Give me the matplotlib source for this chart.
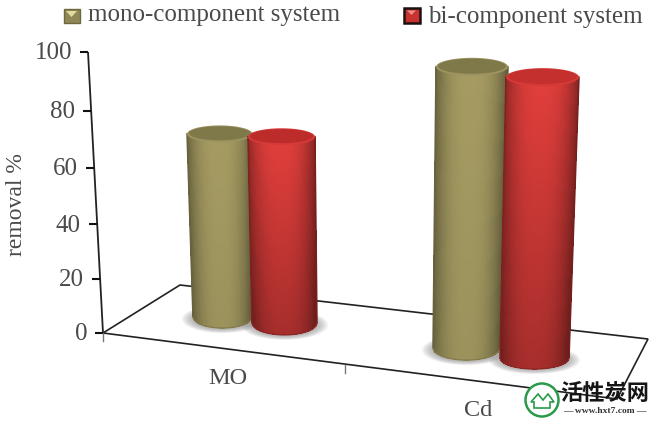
import numpy as np
import matplotlib
matplotlib.use('Agg')
import matplotlib.pyplot as plt
from matplotlib.patches import Ellipse, Rectangle, Polygon, Circle

plt.rcParams['font.family'] = ['Liberation Serif', 'DejaVu Serif']

# values
categories = ['MO', 'Cd']
mono = [72, 95]
bi = [71, 91.5]
series_names = ['mono-component system', 'bi-component system']
y_ticks = [0, 20, 40, 60, 80, 100]

TEXT = '#4a4a4a'
W, H = 651, 423
ZERO_PY = 333


# the value axis is drawn with a little perspective, so it is not quite linear
def forward(v):
    v = np.asarray(v, dtype=float)
    return 2.65 * v + 0.0016 * v ** 2


def inverse(h):
    h = np.asarray(h, dtype=float)
    return (-2.65 + np.sqrt(np.maximum(2.65 ** 2 + 4 * 0.0016 * h, 0))) / (2 * 0.0016)


fig = plt.figure(figsize=(W / 100, H / 100), dpi=100)

# floor, shadows and other decoration, in pixel coordinates
deco = fig.add_axes([0, 0, 1, 1])
deco.set_xlim(0, W)
deco.set_ylim(H, 0)
deco.axis('off')

# chart axes: x in pixels across the skewed floor, y in removal %
ax = fig.add_axes([0, 0, 1, 1])
ax.set_xlim(0, W)
ax.set_yscale('function', functions=(forward, inverse))
ax.set_ylim(inverse(ZERO_PY - H), inverse(ZERO_PY))
ax.axis('off')
ax.patch.set_alpha(0)


def axis_x(v):
    return 88 + (100 - v) * 0.15


# y axis line and ticks
ax.plot([axis_x(0), axis_x(100)], [0, 100], color='#222222', lw=1.3, solid_capstyle='butt')
for v in y_ticks:
    x = axis_x(v)
    ax.plot([x - 8, x], [v, v], color='#111111', lw=1.5, solid_capstyle='butt')
    ax.text(x - 16, v - 0.4, str(v), ha='right', va='center', fontsize=18, color=TEXT)

ax.text(17, 47, 'removal %', rotation=90, ha='center', va='center', fontsize=17, color=TEXT)

# floor
floor = [(103, 333), (180, 285), (648, 339), (617, 399)]
deco.add_patch(Polygon(floor, closed=True, fill=False, edgecolor='#222222', lw=1.2))
for x0, y0 in [(103, 333), (345, 365)]:
    deco.plot([x0, x0], [y0, y0 + 8], color='#777777', lw=1)

deco.text(228, 378, categories[0], ha='center', va='center', fontsize=17.5, color=TEXT)
deco.text(478, 410, categories[1], ha='center', va='center', fontsize=17.5, color=TEXT)

# cylinder placement on the skewed floor
# (top left, top right, bottom left, bottom right, top ry, bottom ry, base level)
geometry = [
    (187, 252.5, 193, 252, 8.5, 11, 6.0),
    (248, 315, 252, 317, 8.5, 12, 3.8),
    (436, 508, 433, 500, 9, 12, -5.7),
    (506, 579, 500, 569, 9, 11, -9.5),
]
heights = [mono[0], bi[0], mono[1], bi[1]]
body_colors = ['#A59B62', '#E03E3B', '#A59B62', '#E03E3B']
top_colors = ['#7F7849', '#BC2C2B', '#7F7849', '#C4302E']
rim_colors = ['#9C9360', '#D63A38', '#9C9360', '#D63A38']
fade_down = [0.06, 0.26, 0.06, 0.26]


def hex_rgb(c):
    return np.array(matplotlib.colors.to_rgb(c))


def draw_cylinder(value, geo, body, top, rim, fade, z):
    xl_t, xr_t, xl_b, xr_b, ry_t, ry_b, base = geo
    h_top = float(forward(value))
    h_base = float(forward(base))

    # shadow on the floor
    cx = (xl_b + xr_b) / 2
    py_base = ZERO_PY - h_base
    for k in range(8):
        deco.add_patch(Ellipse((cx, py_base + 2), (xr_b - xl_b) + 22 - 3 * k, 2 * ry_b + 6 - k,
                               color='#8a8a8a', alpha=0.10, lw=0, zorder=3))

    # side of the cylinder, as a mesh with a horizontal and vertical shade
    n_s, n_r = 70, 60
    s = np.linspace(-1, 1, n_s + 1)
    r = np.linspace(0, 1, n_r + 1)
    S, R = np.meshgrid(s, r)
    left = xl_t + (xl_b - xl_t) * R
    right = xr_t + (xr_b - xr_t) * R
    X = left + (S + 1) / 2 * (right - left)
    arc = np.sqrt(np.clip(1 - S ** 2, 0, 1))
    h_t = h_top - ry_t * arc
    h_b = h_base - ry_b * arc
    Y = inverse(h_t + (h_b - h_t) * R)

    sc = (s[:-1] + s[1:]) / 2
    rc = (r[:-1] + r[1:]) / 2
    across = 0.62 + 0.38 * (1 - np.abs(sc + 0.02) ** 2.6)
    down = 1.0 - fade * rc
    C = np.clip(np.outer(down, across)[..., None] * hex_rgb(body), 0, 1)
    mesh = ax.pcolormesh(X, Y, C, shading='flat', zorder=z, linewidth=0, antialiased=False)
    mesh.set_snap(False)

    # smooth the outline, the mesh itself has hard pixel edges
    ax.plot(X[:, 0], Y[:, 0], color=C[n_r // 2, 0], lw=1.1, zorder=z + 0.05)
    ax.plot(X[:, -1], Y[:, -1], color=C[n_r // 2, -1], lw=1.1, zorder=z + 0.05)
    ax.plot(X[-1, :], Y[-1, :], color=C[-1, n_s // 2] * 0.85, lw=0.9, zorder=z + 0.05)

    # lid
    t = np.linspace(0, 2 * np.pi, 120)
    cx_t = (xl_t + xr_t) / 2
    rx_t = (xr_t - xl_t) / 2
    ax.fill(cx_t + rx_t * np.cos(t), inverse(h_top + ry_t * np.sin(t)), color=rim, lw=0, zorder=z + 0.1)
    ax.fill(cx_t + (rx_t - 2) * np.cos(t), inverse(h_top + 0.6 + (ry_t - 1.5) * np.sin(t)), color=top, lw=0, zorder=z + 0.2)


for i, (val, geo) in enumerate(zip(heights, geometry)):
    draw_cylinder(val, geo, body_colors[i], top_colors[i], rim_colors[i], fade_down[i], 5 + i)

# legend
deco.add_patch(Rectangle((63.5, 9), 16, 14, facecolor='#8F8856', edgecolor='#6e6840', lw=1))
deco.add_patch(Polygon([(66, 11), (77, 11), (71.5, 17)], facecolor='#E3DCA0', lw=0))
deco.add_patch(Rectangle((403.5, 8), 16, 15, facecolor='#C8322F', edgecolor='#1c1010', lw=1.8))
deco.add_patch(Polygon([(407, 10.5), (416, 10.5), (411.5, 15)], facecolor='#EE8E88', lw=0))
deco.text(88, 15, series_names[0], ha='left', va='center', fontsize=18, color=TEXT)
deco.text(428, 17, series_names[1], ha='left', va='center', fontsize=18, color=TEXT)

# site watermark in the corner
wm = fig.add_axes([0, 0, 1, 1])
wm.set_xlim(0, W)
wm.set_ylim(H, 0)
wm.axis('off')
wm.patch.set_alpha(0)
wm.add_patch(Circle((542, 400), 16.5, fill=True, facecolor='white', edgecolor='#2a9a4a', lw=1.8))
wm.add_patch(Polygon([(531, 402), (538, 394), (543, 400), (548, 394), (554, 402), (550, 402), (550, 408), (534, 408), (534, 402)],
                     facecolor='white', edgecolor='#2a9a4a', lw=1.2))
wm.text(605, 393, '活性炭网', ha='center', va='center', fontsize=16, fontweight='bold',
        family=['Noto Sans CJK SC', 'DejaVu Sans'], color='#151515')
wm.text(605, 411, '— www.hxt7.com —', ha='center', va='center', fontsize=6.8, fontweight='bold', color='#333333')

fig.savefig('out.png', dpi=100)
